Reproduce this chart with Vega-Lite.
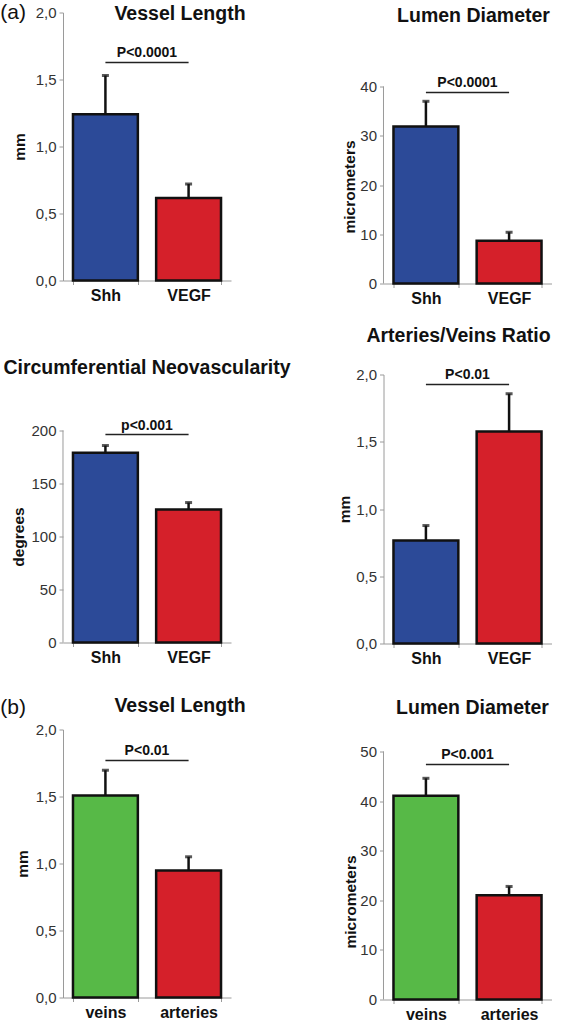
{
  "$schema": "https://vega.github.io/schema/vega-lite/v6.json",
  "padding": {"left": 0, "top": 1.5, "right": 2, "bottom": 0},
  "background": "white",
  "config": {
    "view": {"stroke": null},
    "font": "Liberation Sans",
    "title": {"font": "Liberation Sans", "fontSize": 19.5, "fontWeight": "bold", "color": "#111", "anchor": "middle", "frame": "group"},
    "axis": {"grid": false, "domainColor": "#9a9a9a", "tickColor": "#9a9a9a", "domainWidth": 1, "tickSize": 4, "labelColor": "#333", "titleColor": "#111", "titleFont": "Liberation Sans", "titleFontSize": 15.5, "titleFontWeight": "bold"},
    "axisY": {"labelFont": "Liberation Sans", "labelFontSize": 15, "labelPadding": 3},
    "axisX": {"labelFont": "Liberation Sans", "labelFontSize": 16, "labelFontWeight": "bold", "labelAngle": 0, "labelPadding": 3, "labelColor": "#111", "tickBand": "extent", "title": null},
    "text": {"font": "Liberation Sans", "color": "#111"}
  },
  "columns": 2,
  "align": "each",
  "spacing": {"row": 19, "column": 45.5},
  "concat": [
    {
      "title": {"text": "Vessel Length", "offset": -22.5, "dx": 33},
      "width": 168, "height": 268,
      "data": {"values": [
        {"group": "Shh", "mean": 1.24, "upper": 1.53},
        {"group": "VEGF", "mean": 0.615, "upper": 0.72}
      ]},
      "encoding": {"x": {"field": "group", "type": "nominal", "sort": null, "scale": {"domain": ["Shh", "VEGF"], "paddingInner": 0.22, "paddingOuter": 0.12}, "axis": {"title": null}}},
      "layer": [
        {"mark": {"type": "bar", "stroke": "#111", "strokeWidth": 2.5},
         "encoding": {
           "y": {"field": "mean", "type": "quantitative", "scale": {"domain": [0, 2], "nice": false}, "axis": {"title": "mm", "values": [0, 0.5, 1, 1.5, 2], "labelExpr": "replace(format(datum.value,'.1f'),'.',',')", "titlePadding": 7.6}},
           "color": {"field": "group", "type": "nominal", "scale": {"domain": ["Shh", "VEGF", "veins", "arteries"], "range": ["#2c4a98", "#d5202a", "#57b947", "#d5202a"]}, "legend": null}}},
        {"mark": {"type": "rule", "strokeWidth": 2.5, "color": "#111"}, "encoding": {"y": {"field": "mean", "type": "quantitative"}, "y2": {"field": "upper"}}},
        {"mark": {"type": "tick", "orient": "horizontal", "size": 7, "thickness": 3, "color": "#111"}, "encoding": {"y": {"field": "upper", "type": "quantitative"}}},
        {"data": {"values": [{"from": "Shh", "to": "VEGF", "py": 1.627, "label": "P<0.0001"}]},
         "layer": [
           {"mark": {"type": "rule", "strokeWidth": 1.5, "color": "#222"}, "encoding": {"x": {"field": "from", "type": "nominal"}, "x2": {"field": "to"}, "y": {"field": "py", "type": "quantitative"}}},
           {"mark": {"type": "text", "fontWeight": "bold", "fontSize": 14, "baseline": "alphabetic", "dy": -5}, "encoding": {"x": {"field": "from", "type": "nominal", "bandPosition": 1.141}, "y": {"field": "py", "type": "quantitative"}, "text": {"field": "label"}}}
         ]},
        {"data": {"values": [{"from": "Shh", "py": 2.0, "label": "(a)"}]},
         "mark": {"type": "text", "fontSize": 21, "fontWeight": "normal", "align": "left", "baseline": "middle"},
         "encoding": {"x": {"field": "from", "type": "nominal", "bandPosition": -1.12}, "y": {"field": "py", "type": "quantitative"}, "text": {"field": "label"}}}
      ]
    },
    {
      "title": {"text": "Lumen Diameter", "offset": -13.7, "dx": 6},
      "width": 168, "height": 271,
      "data": {"values": [
        {"group": "Shh", "mean": 31.9, "upper": 37.0},
        {"group": "VEGF", "mean": 8.7, "upper": 10.4}
      ]},
      "encoding": {"x": {"field": "group", "type": "nominal", "sort": null, "scale": {"domain": ["Shh", "VEGF"], "paddingInner": 0.22, "paddingOuter": 0.12}, "axis": {"title": null}}},
      "layer": [
        {"mark": {"type": "bar", "stroke": "#111", "strokeWidth": 2.5},
         "encoding": {
           "y": {"field": "mean", "type": "quantitative", "scale": {"domain": [0, 55.03], "nice": false}, "axis": {"title": "micrometers", "values": [0, 10, 20, 30, 40], "titlePadding": 2.8, "domain": false, "titleY": 174}},
           "color": {"field": "group", "type": "nominal", "scale": {"domain": ["Shh", "VEGF", "veins", "arteries"], "range": ["#2c4a98", "#d5202a", "#57b947", "#d5202a"]}, "legend": null}}},
        {"mark": {"type": "rule", "strokeWidth": 2.5, "color": "#111"}, "encoding": {"y": {"field": "mean", "type": "quantitative"}, "y2": {"field": "upper"}}},
        {"mark": {"type": "tick", "orient": "horizontal", "size": 7, "thickness": 3, "color": "#111"}, "encoding": {"y": {"field": "upper", "type": "quantitative"}}},
        {"data": {"values": [{"from": "Shh", "lo": 0, "hi": 40}]},
         "mark": {"type": "rule", "color": "#9a9a9a", "strokeWidth": 1},
         "encoding": {"x": {"field": "from", "type": "nominal", "bandPosition": -0.1539}, "y": {"field": "lo", "type": "quantitative"}, "y2": {"field": "hi"}}},
        {"data": {"values": [{"from": "Shh", "to": "VEGF", "py": 38.8, "label": "P<0.0001"}]},
         "layer": [
           {"mark": {"type": "rule", "strokeWidth": 1.5, "color": "#222"}, "encoding": {"x": {"field": "from", "type": "nominal"}, "x2": {"field": "to"}, "y": {"field": "py", "type": "quantitative"}}},
           {"mark": {"type": "text", "fontWeight": "bold", "fontSize": 14, "baseline": "alphabetic", "dy": -5}, "encoding": {"x": {"field": "from", "type": "nominal", "bandPosition": 1.141}, "y": {"field": "py", "type": "quantitative"}, "text": {"field": "label"}}}
         ]}
      ]
    },
    {
      "title": {"text": "Circumferential Neovascularity", "offset": -4},
      "width": 168, "height": 268,
      "data": {"values": [
        {"group": "Shh", "mean": 179, "upper": 185.8},
        {"group": "VEGF", "mean": 125.5, "upper": 132}
      ]},
      "encoding": {"x": {"field": "group", "type": "nominal", "sort": null, "scale": {"domain": ["Shh", "VEGF"], "paddingInner": 0.22, "paddingOuter": 0.12}, "axis": {"title": null}}},
      "layer": [
        {"mark": {"type": "bar", "stroke": "#111", "strokeWidth": 2.5},
         "encoding": {
           "y": {"field": "mean", "type": "quantitative", "scale": {"domain": [0, 252.8], "nice": false}, "axis": {"title": "degrees", "values": [0, 50, 100, 150, 200], "titlePadding": 4.5, "domain": false, "titleY": 162}},
           "color": {"field": "group", "type": "nominal", "scale": {"domain": ["Shh", "VEGF", "veins", "arteries"], "range": ["#2c4a98", "#d5202a", "#57b947", "#d5202a"]}, "legend": null}}},
        {"mark": {"type": "rule", "strokeWidth": 2.5, "color": "#111"}, "encoding": {"y": {"field": "mean", "type": "quantitative"}, "y2": {"field": "upper"}}},
        {"mark": {"type": "tick", "orient": "horizontal", "size": 7, "thickness": 3, "color": "#111"}, "encoding": {"y": {"field": "upper", "type": "quantitative"}}},
        {"data": {"values": [{"from": "Shh", "lo": 0, "hi": 200}]},
         "mark": {"type": "rule", "color": "#9a9a9a", "strokeWidth": 1},
         "encoding": {"x": {"field": "from", "type": "nominal", "bandPosition": -0.1539}, "y": {"field": "lo", "type": "quantitative"}, "y2": {"field": "hi"}}},
        {"data": {"values": [{"from": "Shh", "to": "VEGF", "py": 196.2, "label": "p<0.001"}]},
         "layer": [
           {"mark": {"type": "rule", "strokeWidth": 1.5, "color": "#222"}, "encoding": {"x": {"field": "from", "type": "nominal"}, "x2": {"field": "to"}, "y": {"field": "py", "type": "quantitative"}}},
           {"mark": {"type": "text", "fontWeight": "bold", "fontSize": 14, "baseline": "alphabetic", "dy": -5}, "encoding": {"x": {"field": "from", "type": "nominal", "bandPosition": 1.141}, "y": {"field": "py", "type": "quantitative"}, "text": {"field": "label"}}}
         ]}
      ]
    },
    {
      "title": {"text": "Arteries/Veins Ratio", "offset": 21, "dx": -9},
      "width": 168, "height": 269,
      "data": {"values": [
        {"group": "Shh", "mean": 0.766, "upper": 0.877},
        {"group": "VEGF", "mean": 1.576, "upper": 1.857}
      ]},
      "encoding": {"x": {"field": "group", "type": "nominal", "sort": null, "scale": {"domain": ["Shh", "VEGF"], "paddingInner": 0.22, "paddingOuter": 0.12}, "axis": {"title": null}}},
      "layer": [
        {"mark": {"type": "bar", "stroke": "#111", "strokeWidth": 2.5},
         "encoding": {
           "y": {"field": "mean", "type": "quantitative", "scale": {"domain": [0, 2], "nice": false}, "axis": {"title": "mm", "values": [0, 0.5, 1, 1.5, 2], "labelExpr": "replace(format(datum.value,'.1f'),'.',',')", "titlePadding": 3.6}},
           "color": {"field": "group", "type": "nominal", "scale": {"domain": ["Shh", "VEGF", "veins", "arteries"], "range": ["#2c4a98", "#d5202a", "#57b947", "#d5202a"]}, "legend": null}}},
        {"mark": {"type": "rule", "strokeWidth": 2.5, "color": "#111"}, "encoding": {"y": {"field": "mean", "type": "quantitative"}, "y2": {"field": "upper"}}},
        {"mark": {"type": "tick", "orient": "horizontal", "size": 7, "thickness": 3, "color": "#111"}, "encoding": {"y": {"field": "upper", "type": "quantitative"}}},
        {"data": {"values": [{"from": "Shh", "to": "VEGF", "py": 1.926, "label": "P<0.01"}]},
         "layer": [
           {"mark": {"type": "rule", "strokeWidth": 1.5, "color": "#222"}, "encoding": {"x": {"field": "from", "type": "nominal"}, "x2": {"field": "to"}, "y": {"field": "py", "type": "quantitative"}}},
           {"mark": {"type": "text", "fontWeight": "bold", "fontSize": 14, "baseline": "alphabetic", "dy": -5}, "encoding": {"x": {"field": "from", "type": "nominal", "bandPosition": 1.141}, "y": {"field": "py", "type": "quantitative"}, "text": {"field": "label"}}}
         ]}
      ]
    },
    {
      "title": {"text": "Vessel Length", "offset": -19.5, "dx": 33},
      "width": 168, "height": 268,
      "data": {"values": [
        {"group": "veins", "mean": 1.507, "upper": 1.696},
        {"group": "arteries", "mean": 0.948, "upper": 1.05}
      ]},
      "encoding": {"x": {"field": "group", "type": "nominal", "sort": null, "scale": {"domain": ["veins", "arteries"], "paddingInner": 0.22, "paddingOuter": 0.12}, "axis": {"title": null}}},
      "layer": [
        {"mark": {"type": "bar", "stroke": "#111", "strokeWidth": 2.5},
         "encoding": {
           "y": {"field": "mean", "type": "quantitative", "scale": {"domain": [0, 2], "nice": false}, "axis": {"title": "mm", "values": [0, 0.5, 1, 1.5, 2], "labelExpr": "replace(format(datum.value,'.1f'),'.',',')", "titlePadding": 4.6}},
           "color": {"field": "group", "type": "nominal", "scale": {"domain": ["Shh", "VEGF", "veins", "arteries"], "range": ["#2c4a98", "#d5202a", "#57b947", "#d5202a"]}, "legend": null}}},
        {"mark": {"type": "rule", "strokeWidth": 2.5, "color": "#111"}, "encoding": {"y": {"field": "mean", "type": "quantitative"}, "y2": {"field": "upper"}}},
        {"mark": {"type": "tick", "orient": "horizontal", "size": 7, "thickness": 3, "color": "#111"}, "encoding": {"y": {"field": "upper", "type": "quantitative"}}},
        {"data": {"values": [{"from": "veins", "to": "arteries", "py": 1.769, "label": "P<0.01"}]},
         "layer": [
           {"mark": {"type": "rule", "strokeWidth": 1.5, "color": "#222"}, "encoding": {"x": {"field": "from", "type": "nominal"}, "x2": {"field": "to"}, "y": {"field": "py", "type": "quantitative"}}},
           {"mark": {"type": "text", "fontWeight": "bold", "fontSize": 14, "baseline": "alphabetic", "dy": -5}, "encoding": {"x": {"field": "from", "type": "nominal", "bandPosition": 1.141}, "y": {"field": "py", "type": "quantitative"}, "text": {"field": "label"}}}
         ]},
        {"data": {"values": [{"from": "veins", "py": 2.164, "label": "(b)"}]},
         "mark": {"type": "text", "fontSize": 21, "fontWeight": "normal", "align": "left", "baseline": "middle"},
         "encoding": {"x": {"field": "from", "type": "nominal", "bandPosition": -1.12}, "y": {"field": "py", "type": "quantitative"}, "text": {"field": "label"}}}
      ]
    },
    {
      "title": {"text": ["", "Lumen Diameter"], "lineHeight": 12, "offset": 11, "dx": 5},
      "width": 168, "height": 270,
      "data": {"values": [
        {"group": "veins", "mean": 41.1, "upper": 44.6},
        {"group": "arteries", "mean": 21.0, "upper": 22.8}
      ]},
      "encoding": {"x": {"field": "group", "type": "nominal", "sort": null, "scale": {"domain": ["veins", "arteries"], "paddingInner": 0.22, "paddingOuter": 0.12}, "axis": {"title": null}}},
      "layer": [
        {"mark": {"type": "bar", "stroke": "#111", "strokeWidth": 2.5},
         "encoding": {
           "y": {"field": "mean", "type": "quantitative", "scale": {"domain": [0, 54.44], "nice": false}, "axis": {"title": "micrometers", "values": [0, 10, 20, 30, 40, 50], "titlePadding": 1, "domain": false, "titleY": 172}},
           "color": {"field": "group", "type": "nominal", "scale": {"domain": ["Shh", "VEGF", "veins", "arteries"], "range": ["#2c4a98", "#d5202a", "#57b947", "#d5202a"]}, "legend": null}}},
        {"mark": {"type": "rule", "strokeWidth": 2.5, "color": "#111"}, "encoding": {"y": {"field": "mean", "type": "quantitative"}, "y2": {"field": "upper"}}},
        {"mark": {"type": "tick", "orient": "horizontal", "size": 7, "thickness": 3, "color": "#111"}, "encoding": {"y": {"field": "upper", "type": "quantitative"}}},
        {"data": {"values": [{"from": "veins", "lo": 0, "hi": 50}]},
         "mark": {"type": "rule", "color": "#9a9a9a", "strokeWidth": 1},
         "encoding": {"x": {"field": "from", "type": "nominal", "bandPosition": -0.1539}, "y": {"field": "lo", "type": "quantitative"}, "y2": {"field": "hi"}}},
        {"data": {"values": [{"from": "veins", "to": "arteries", "py": 47.4, "label": "P<0.001"}]},
         "layer": [
           {"mark": {"type": "rule", "strokeWidth": 1.5, "color": "#222"}, "encoding": {"x": {"field": "from", "type": "nominal"}, "x2": {"field": "to"}, "y": {"field": "py", "type": "quantitative"}}},
           {"mark": {"type": "text", "fontWeight": "bold", "fontSize": 14, "baseline": "alphabetic", "dy": -5}, "encoding": {"x": {"field": "from", "type": "nominal", "bandPosition": 1.141}, "y": {"field": "py", "type": "quantitative"}, "text": {"field": "label"}}}
         ]}
      ]
    }
  ]
}
